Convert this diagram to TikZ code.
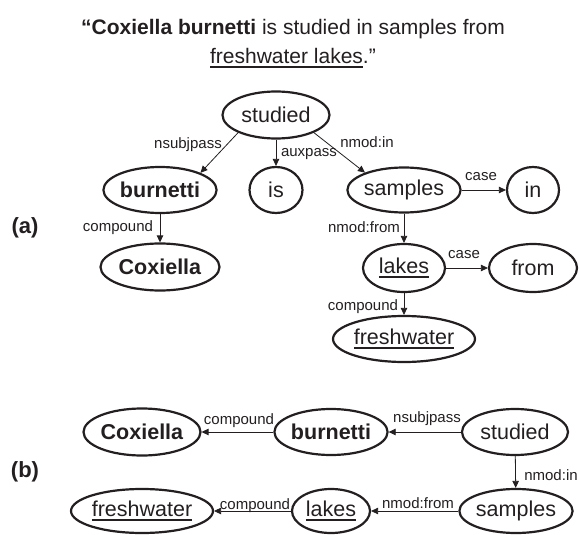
\documentclass[tikz,border=0pt]{standalone}
\usepackage{fontspec}
\setmainfont{Liberation Sans}
\usetikzlibrary{shapes.geometric,arrows.meta}
\definecolor{ink}{HTML}{231F20}
\newcommand\uln[1]{\setbox0\hbox{#1}\rlap{\color{ink}\rule[-4pt]{\wd0}{1.8pt}}\box0}
\begin{document}
\begin{tikzpicture}[x=1pt,y=-1pt,
 word/.style={ellipse, draw=ink, line width=2.2pt, inner sep=0pt, text=ink, font=\fontsize{21.5}{24}\selectfont},
 lab/.style={font=\fontsize{15}{17}\selectfont, text=ink, inner sep=0pt, anchor=base},
 ttl/.style={font=\fontsize{21}{25}\selectfont, text=ink, inner sep=0pt, anchor=base},
 panel/.style={font=\bfseries\fontsize{22}{26}\selectfont, text=ink, inner sep=0pt},
 arr/.style={draw=ink, line width=0.8pt, -{Triangle[length=7pt,width=6.5pt]}},
]
\useasboundingbox (0,0) rectangle (579,535);
% title
\node[ttl] (t1) at (293,35) {\textbf{“Coxiella burnetti} is studied in samples from};
\node[ttl] (t2) at (293,64) {\uln{freshwater lakes}.”};
% panel labels
\node[panel] (pa) at (25,228) {(a)};
\node[panel] (pb) at (25,472) {(b)};
% (a) nodes
\node[word, minimum width=107, minimum height=47] (studied) at (276,115) {studied};
\node[word, minimum width=112, minimum height=46] (burnetti) at (160,190) {\textbf{burnetti}};
\node[word, minimum width=53, minimum height=46] (is) at (276,190) {is};
\node[word, minimum width=110, minimum height=45] (samples) at (404,190) {samples};
\node[word, minimum width=52, minimum height=46] (in) at (533,190) {in};
\node[word, minimum width=119, minimum height=47] (cox) at (160,267) {\textbf{Coxiella}};
\node[word, minimum width=82, minimum height=48] (lakes) at (404,268) {\uln{lakes}};
\node[word, minimum width=88, minimum height=48] (from) at (533,268) {from};
\node[word, minimum width=141, minimum height=46] (fresh) at (404,339) {\uln{freshwater}};
% (a) edges
\draw[arr] (studied.205) -- (burnetti.23);
\draw[arr] (studied) -- (is);
\draw[arr] (studied.335) -- (samples.156);
\draw[arr] (samples) -- (in);
\draw[arr] (burnetti) -- (cox);
\draw[arr] (samples) -- (lakes);
\draw[arr] (lakes) -- (from);
\draw[arr] (lakes) -- (fresh);
% (a) labels
\node[lab] (l1) at (188,148) {nsubjpass};
\node[lab] (l2) at (309,157) {auxpass};
\node[lab] (l3) at (367,147) {nmod:in};
\node[lab] (l4) at (481,180) {case};
\node[lab] (l5) at (118,231) {compound};
\node[lab] (l6) at (364,232) {nmod:from};
\node[lab] (l7) at (464,258) {case};
\node[lab] (l8) at (363,310) {compound};
% (b) nodes
\node[word, minimum width=117, minimum height=47] (coxb) at (142,432) {\textbf{Coxiella}};
\node[word, minimum width=112, minimum height=46] (burnettib) at (331,432) {\textbf{burnetti}};
\node[word, minimum width=106, minimum height=46] (studiedb) at (515,432) {studied};
\node[word, minimum width=139, minimum height=44] (freshb) at (142,511) {\uln{freshwater}};
\node[word, minimum width=78, minimum height=44] (lakesb) at (331,511) {\uln{lakes}};
\node[word, minimum width=110, minimum height=44] (samplesb) at (516,511) {samples};
% (b) edges
\draw[arr] (burnettib) -- (coxb);
\draw[arr] (studiedb) -- (burnettib);
\draw[arr] (studiedb) -- (samplesb);
\draw[arr] (samplesb) -- (lakesb);
\draw[arr] (lakesb) -- (freshb);
% (b) labels
\node[lab] (m1) at (239,424) {compound};
\node[lab] (m2) at (427,422) {nsubjpass};
\node[lab] (m3) at (551,480) {nmod:in};
\node[lab] (m4) at (418,508) {nmod:from};
\node[lab] (m5) at (255,509) {compound};
\end{tikzpicture}
\end{document}
